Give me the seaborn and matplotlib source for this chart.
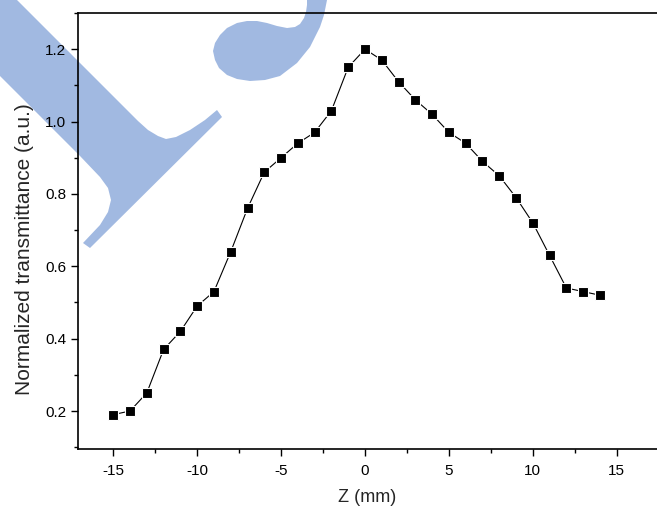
import numpy as np
import pandas as pd
import matplotlib
matplotlib.use("Agg")
import matplotlib.pyplot as plt
from matplotlib.patches import Polygon
from matplotlib.ticker import MultipleLocator
import seaborn as sns

z_mm = [-15, -14, -13, -12, -11, -10, -9, -8, -7, -6, -5, -4, -3, -2, -1,
        0, 1, 2, 3, 4, 5, 6, 7, 8, 9, 10, 11, 12, 13, 14]
transmittance = [0.19, 0.20, 0.25, 0.37, 0.42, 0.49, 0.53, 0.64, 0.76, 0.86,
                 0.90, 0.94, 0.97, 1.03, 1.15, 1.20, 1.17, 1.11, 1.06, 1.02,
                 0.97, 0.94, 0.89, 0.85, 0.79, 0.72, 0.63, 0.54, 0.53, 0.52]
x_ticks = [-15, -10, -5, 0, 5, 10, 15]
y_ticks = [0.2, 0.4, 0.6, 0.8, 1.0, 1.2]

df = pd.DataFrame({"Z": z_mm, "T": transmittance})

sns.set_theme(style="ticks")
plt.rcParams["font.family"] = ["Liberation Sans", "DejaVu Sans"]

W, H = 657, 512
fig = plt.figure(figsize=(W / 100, H / 100), dpi=100)
ax = fig.add_axes([78 / W, (H - 449) / H, 1 - 78 / W, (449 - 13) / H])
ax.set_facecolor("none")

# decorative watermark shapes (pixel coordinates, image origin top-left)
wm_color = "#a1b9e1"
band = [(-40, -40), (17, 0), (117, 100), (138, 121), (148, 130), (158, 136),
        (166, 139), (176, 137), (190, 130), (205, 120), (217, 110), (222, 117),
        (90, 248), (83, 243), (100, 225), (108, 212), (111, 200), (108, 188),
        (100, 177), (80, 156), (0, 76), (-40, 36)]
blob = [(307, -5), (330, -5), (327, 0), (324, 15), (320, 27), (310, 47),
        (297, 63), (280, 76), (265, 80), (250, 81), (237, 79), (227, 75),
        (219, 68), (215, 60), (213, 51), (215, 43), (220, 35), (227, 28),
        (237, 23), (247, 21), (257, 21), (267, 23), (277, 26), (287, 28),
        (295, 27), (300, 24), (304, 18), (306, 12), (307, 5)]
for shape in (band, blob):
    pts = [(px, H - py) for px, py in shape]
    fig.patches.append(Polygon(pts, closed=True, transform=None,
                               facecolor=wm_color, edgecolor="none", zorder=-1))

sns.lineplot(data=df, x="Z", y="T", ax=ax, color="black", linewidth=0.8,
             marker="s", markersize=7, markeredgecolor="white",
             markeredgewidth=0.8, markerfacecolor="black")

ax.set_xlim(-17.1, 17.4)
ax.set_ylim(0.095, 1.30)
ax.set_xticks(x_ticks)
ax.set_xticklabels([str(v) for v in x_ticks])
ax.set_yticks(y_ticks)
ax.set_yticklabels([f"{v:.1f}" for v in y_ticks])
ax.xaxis.set_minor_locator(MultipleLocator(2.5))
ax.yaxis.set_minor_locator(MultipleLocator(0.1))
ax.tick_params(axis="both", which="major", direction="out", length=5,
               width=1, labelsize=11, colors="black")
ax.tick_params(axis="both", which="minor", direction="out", length=3,
               width=1, colors="black")
ax.tick_params(axis="x", pad=6)

for side in ("left", "top", "bottom"):
    ax.spines[side].set_visible(True)
    ax.spines[side].set_color("black")
    ax.spines[side].set_linewidth(1.2)
ax.spines["right"].set_visible(False)

ax.set_xlabel("Z (mm)", fontsize=13, labelpad=8)
ax.set_ylabel("Normalized transmittance (a.u.)", fontsize=15)
ax.yaxis.set_label_coords(-0.076, 0.459)

fig.savefig("out.png", dpi=100)
